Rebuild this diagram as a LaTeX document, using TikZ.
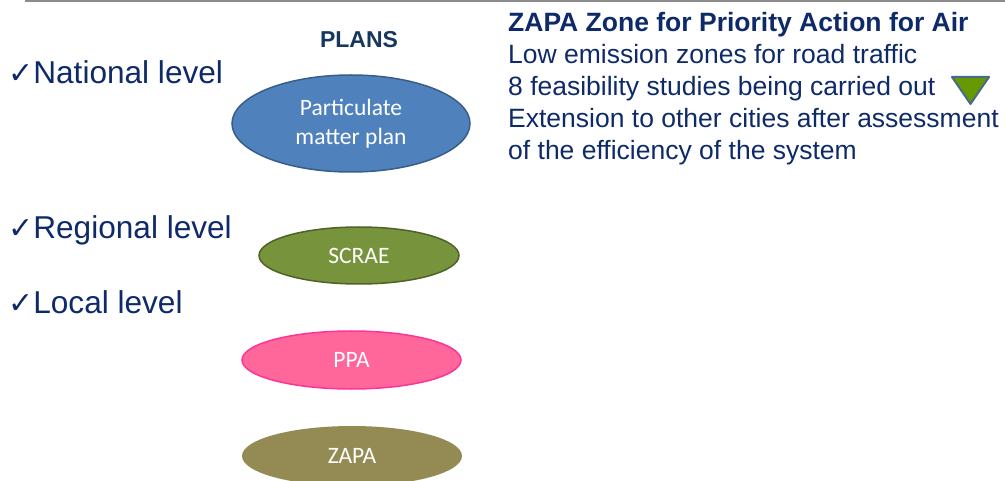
\documentclass[tikz,border=0pt]{standalone}
\usepackage{fontspec}
\setmainfont{Liberation Sans}
\newfontfamily\calib{Carlito}
\newfontfamily\dvs{DejaVu Sans}
\usetikzlibrary{shapes.geometric}
\definecolor{navy}{HTML}{0E2A68}
\definecolor{plansc}{HTML}{17375E}
\definecolor{blueF}{HTML}{4F81BD}
\definecolor{blueD}{HTML}{385D8A}
\definecolor{greenF}{HTML}{77933C}
\definecolor{greenD}{HTML}{4F6228}
\definecolor{pinkF}{HTML}{FF6699}
\definecolor{pinkD}{HTML}{FF3399}
\definecolor{oliveF}{HTML}{948A54}
\definecolor{triF}{HTML}{669900}
\definecolor{triD}{HTML}{4A6A8C}
\newcommand{\chk}{{\dvs\fontsize{30}{30}\selectfont ✓}}
\tikzset{
  level/.style={anchor=base west, inner sep=0pt, text=navy, font=\fontsize{31.6}{36}\selectfont},
  plan/.style={ellipse, inner sep=0pt, line width=1.5pt, text=white, font=\calib\fontsize{23.5}{29}\selectfont, align=center},
  body/.style={anchor=base west, inner sep=0pt, text=navy, font=\fontsize{26.5}{32}\selectfont},
}
\begin{document}
\begin{tikzpicture}[x=1pt,y=-1pt]
\useasboundingbox (0,0) rectangle (1005,481);
\coordinate (l0) at (25,1.5);
\coordinate (l1) at (1005,1.5);
\draw[line width=2pt, color=gray!90] (l0) -- (l1);
\node[anchor=base, inner sep=0pt, text=plansc, font=\bfseries\fontsize{23}{26}\selectfont] (plans) at (359,48) {PLANS};
\node[level] (nat) at (8,84) {\chk National level};
\node[level] (reg) at (8,239) {\chk Regional level};
\node[level] (loc) at (8,314) {\chk Local level};
\node[plan, draw=blueD, fill=blueF, minimum width=238pt, minimum height=97pt] (pm) at (351,123.5) {Particulate\\matter plan};
\node[plan, draw=greenD, fill=greenF, minimum width=200pt, minimum height=57pt] (scrae) at (359,255.5) {SCRAE};
\node[plan, draw=pinkD, fill=pinkF, minimum width=219pt, minimum height=58pt] (ppa) at (351.5,360) {PPA};
\node[plan, fill=oliveF, minimum width=220pt, minimum height=60pt] (zapa) at (352,456) {ZAPA};
\node[body, font=\bfseries\fontsize{26.5}{32}\selectfont] (t1) at (508,32) {ZAPA Zone for Priority Action for Air};
\node[body] (t2) at (508,64) {Low emission zones for road traffic};
\node[body] (t3) at (508,96) {8 feasibility studies being carried out};
\node[body] (t4) at (508,128) {Extension to other cities after assessment};
\node[body] (t5) at (508,160) {of the efficiency of the system};
\coordinate (ta) at (952,77);
\coordinate (tb) at (989,77);
\coordinate (tc) at (970.5,104);
\draw[line width=2pt, draw=triD, fill=triF, line join=round] (ta) -- (tb) -- (tc) -- cycle;
\end{tikzpicture}
\end{document}
